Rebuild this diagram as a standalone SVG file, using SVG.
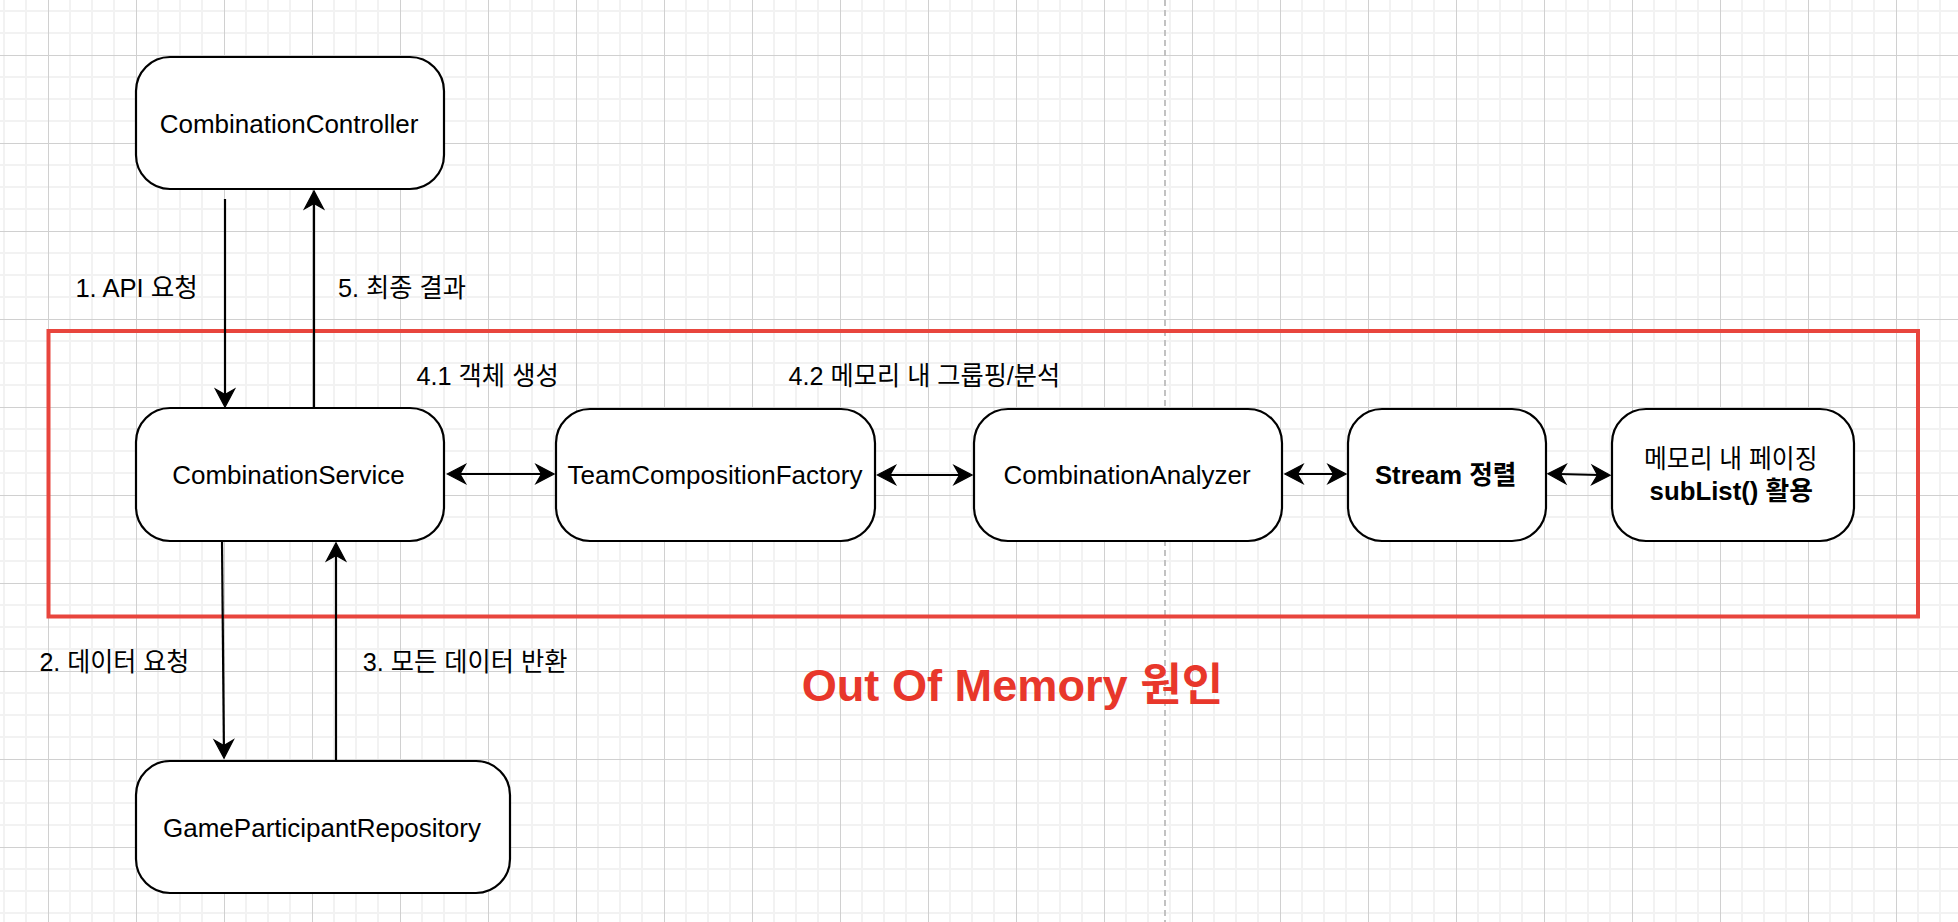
<svg xmlns="http://www.w3.org/2000/svg" width="1958" height="922" viewBox="0 0 1958 922">
  <style>
    .bg { fill: #ffffff; }
    .node rect { fill: #ffffff; stroke: #000000; stroke-width: 2.2; }
    .t { font-family: "Liberation Sans", "Noto Sans CJK KR", sans-serif; font-size: 26px; fill: #000000; }
    .c { text-anchor: middle; }
    .b { font-weight: bold; }
    .edge { stroke: #000000; stroke-width: 2.2; fill: none; }
    .oom { font-family: "Liberation Sans", "Noto Sans CJK KR", sans-serif; font-size: 45px; font-weight: bold; fill: #E8372B; }
    .zone { fill: none; stroke: #E8453D; stroke-width: 4; }
    .page { stroke: #c2c2c2; stroke-width: 2; stroke-dasharray: 6 4; }
  </style>
  <defs>
    <pattern id="grid" x="48" y="55" width="88" height="88" patternUnits="userSpaceOnUse">
      <path d="M22 0V88M44 0V88M66 0V88M0 22H88M0 44H88M0 66H88" stroke="#f2f2f2" stroke-width="2" fill="none"/>
      <path d="M0.5 0V88M0 0.5H88" stroke="#d0d0d0" stroke-width="1" fill="none"/>
    </pattern>
    <marker id="arrow" markerUnits="userSpaceOnUse" viewBox="-24 -14 38 28" refX="-12" refY="0" markerWidth="38" markerHeight="28" orient="auto-start-reverse">
      <path d="M-0.8,0 L-19,-9.6 L-13.5,0 L-19,9.6 Z" fill="#000000" stroke="#000000" stroke-width="1.2" stroke-linejoin="miter"/>
    </marker>
  </defs>

  <rect class="bg" x="0" y="0" width="1958" height="922"/>
  <rect x="0" y="0" width="1958" height="922" fill="url(#grid)"/>
  <line class="page" x1="1165" y1="0" x2="1165" y2="922"/>

  <rect class="zone" x="48.5" y="331" width="1869.5" height="285.5"/>

  <g id="connectors">
    <path class="edge" d="M225,199 V396" marker-end="url(#arrow)"/>
    <path class="edge" d="M314,408 V202" marker-end="url(#arrow)"/>
    <path class="edge" d="M222,541 L223.9,747" marker-end="url(#arrow)"/>
    <path class="edge" d="M336,761 V554" marker-end="url(#arrow)"/>
    <path class="edge" d="M458.5,474 H543" marker-start="url(#arrow)" marker-end="url(#arrow)"/>
    <path class="edge" d="M888.5,475 H961" marker-start="url(#arrow)" marker-end="url(#arrow)"/>
    <path class="edge" d="M1296,474 H1335" marker-start="url(#arrow)" marker-end="url(#arrow)"/>
    <path class="edge" d="M1559,474 L1599,475" marker-start="url(#arrow)" marker-end="url(#arrow)"/>
  </g>

  <g id="labels">
    <text class="t" x="75.4" y="296.5" textLength="122.5" lengthAdjust="spacingAndGlyphs">1. API 요청</text>
    <text class="t" x="338" y="296.5" textLength="128" lengthAdjust="spacingAndGlyphs">5. 최종 결과</text>
    <text class="t" x="416.4" y="384.5" textLength="142.3" lengthAdjust="spacingAndGlyphs">4.1 객체 생성</text>
    <text class="t" x="788.6" y="384.5" textLength="271.6" lengthAdjust="spacingAndGlyphs">4.2 메모리 내 그룹핑/분석</text>
    <text class="t" x="39.4" y="670.5" textLength="150" lengthAdjust="spacingAndGlyphs">2. 데이터 요청</text>
    <text class="t" x="362.8" y="670.5" textLength="204.7" lengthAdjust="spacingAndGlyphs">3. 모든 데이터 반환</text>
    <text class="oom" x="801.7" y="700.5" textLength="421.6" lengthAdjust="spacingAndGlyphs">Out Of Memory 원인</text>
  </g>

  <g id="node-controller" class="node">
    <rect x="136" y="57" width="308" height="132" rx="34" ry="34"/>
    <text class="t c" x="289" y="132.5">CombinationController</text>
  </g>
  <g id="node-service" class="node">
    <rect x="136" y="408" width="308" height="133" rx="34" ry="34"/>
    <text class="t c" x="288.5" y="484">CombinationService</text>
  </g>
  <g id="node-repository" class="node">
    <rect x="136" y="761" width="374" height="132" rx="34" ry="34"/>
    <text class="t c" x="322" y="836.5">GameParticipantRepository</text>
  </g>
  <g id="node-factory" class="node">
    <rect x="556" y="409" width="319" height="132" rx="34" ry="34"/>
    <text class="t c" x="715" y="484">TeamCompositionFactory</text>
  </g>
  <g id="node-analyzer" class="node">
    <rect x="974" y="409" width="308" height="132" rx="34" ry="34"/>
    <text class="t c" x="1127" y="484">CombinationAnalyzer</text>
  </g>
  <g id="node-stream" class="node">
    <rect x="1348" y="409" width="198" height="132" rx="34" ry="34"/>
    <text class="t b" x="1375" y="483.5" textLength="141.4" lengthAdjust="spacingAndGlyphs">Stream 정렬</text>
  </g>
  <g id="node-paging" class="node">
    <rect x="1612" y="409" width="242" height="132" rx="34" ry="34"/>
    <text class="t" x="1644" y="467.5" textLength="173.5" lengthAdjust="spacingAndGlyphs">메모리 내 페이징</text>
    <text class="t b" x="1649.6" y="499.5" textLength="163.4" lengthAdjust="spacingAndGlyphs">subList() 활용</text>
  </g>
</svg>
